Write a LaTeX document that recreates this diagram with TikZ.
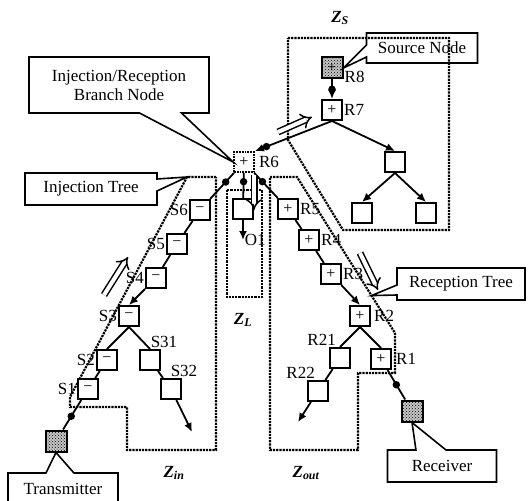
\documentclass[tikz,border=0pt]{standalone}
\usepackage{fontspec}
\setmainfont{Liberation Serif}
\usetikzlibrary{arrows.meta,shapes.callouts,patterns}

\tikzset{
  caja/.style={draw, line width=2pt, minimum size=20pt, inner sep=0pt, fill=white, font=\fontsize{16}{16}\selectfont},
  fuente/.style={caja, minimum size=21pt, preaction={fill=gray!45}, pattern=crosshatch dots},
  rama/.style={draw, densely dotted, line width=1.8pt, minimum size=20pt, inner sep=0pt, font=\fontsize{16}{16}\selectfont},
  punto/.style={circle, fill=black, inner sep=0pt, minimum size=7.5pt},
  zona/.style={densely dotted, line width=2.2pt},
  enlace/.style={line width=1.8pt},
  flecha/.style={enlace, -{Latex[length=9pt,width=8pt]}},
  hueca/.style={double distance=4pt, line width=1.5pt, -{Implies}},
  globo/.style={rectangle callout, draw, line width=1.6pt, inner sep=2pt},
  etiq/.style={inner sep=1pt},
}

\begin{document}
\begin{tikzpicture}[x=1pt, y=-1pt, font=\fontsize{17}{19}\selectfont]
  \useasboundingbox (0,0) rectangle (529,500);

  % Zonas
  \draw[zona] (288,38) -- (449,38) -- (449,230) -- (343,230) -- (288,140) -- cycle;
  \draw[zona] (216,177) -- (187,177) coordinate (zin) -- (70,397) -- (70,407) -- (127,407)
              -- (127,450) -- (216,450) -- cycle;
  \draw[zona] (227,190) rectangle (262,297);
  \draw[zona] (270,177) -- (297,177) -- coordinate[pos=0.76] (zout) (395,333) -- (395,373)
              -- (358,373) -- (358,450) -- (270,450) -- cycle;

  \node at (340,18) {\textbf{\textit{Z\textsubscript{S}}}};
  \node at (174,473) {\textbf{\textit{Z\textsubscript{in}}}};
  \node at (243,320) {\textbf{\textit{Z\textsubscript{L}}}};
  \node at (306,473) {\textbf{\textit{Z\textsubscript{out}}}};

  % Arbol fuente
  \node[fuente, label={[etiq, yshift=-9pt]right:R8}] (r8) at (332,68) {+};
  \node[caja, label={[etiq]right:R7}] (r7) at (332,110) {+};
  \node[caja] (rc) at (395,162) {};
  \node[caja] (c1) at (362,213) {};
  \node[caja] (c2) at (426,213) {};
  \node[rama, label={[etiq, xshift=3pt]right:R6}] (r6) at (244,162) {+};

  \draw[flecha] (r8) -- node[punto]{} (r7);
  \draw[flecha] (r7.south) -- node[punto, pos=0.85]{} (r6.north east);
  \draw[flecha] (r7.south) -- (rc.north);
  \draw[flecha] (rc.south) -- (c1.north);
  \draw[flecha] (rc.south) -- (c2.north);

  % Rama local
  \node[caja] (ob) at (243,209) {};
  \coordinate (o1) at (243,240);
  \draw[enlace] (r6) -- node[punto, pos=0.35]{} (ob);
  \draw[flecha] (ob) -- (o1) node[right, etiq] {O1};

  % Arbol de inyeccion
  \node[caja, label={[etiq]left:S6}] (s6) at (200,210) {−};
  \node[caja, label={[etiq]left:S5}] (s5) at (177,244) {−};
  \node[caja, label={[etiq]left:S4}] (s4) at (156,278) {−};
  \node[caja, label={[etiq]left:S3}] (s3) at (129,316) {−};
  \node[caja, label={[etiq, xshift=14pt]above:S31}] (s31) at (150,360) {};
  \node[caja, label={[etiq, xshift=13pt]above:S32}] (s32) at (171,389) {};
  \node[caja, label={[etiq]left:S2}] (s2) at (107,360) {−};
  \node[caja, label={[etiq]left:S1}] (s1) at (88,389) {−};
  \node[fuente] (tx) at (56,441) {};
  \coordinate (sal1) at (192,432);

  \draw[enlace] (r6) -- node[punto, pos=0.35]{} (s6);
  \draw[enlace] (s6) -- (s5);
  \draw[enlace] (s5) -- (s4);
  \draw[flecha] (s4) -- (s3.north);
  \draw[enlace] (s3.south) -- (s2.north);
  \draw[enlace] (s3.south) -- (s31.north);
  \draw[enlace] (s2) -- (s1);
  \draw[enlace] (s31) -- (s32);
  \draw[flecha] (s32) -- (sal1);
  \draw[enlace] (s1) -- node[punto, pos=0.55]{} (tx);

  % Arbol de recepcion
  \node[caja, label={[etiq]right:R5}] (r5) at (288,209) {+};
  \node[caja, label={[etiq]right:R4}] (r4) at (309,240) {+};
  \node[caja, label={[etiq]right:R3}] (r3) at (331,274) {+};
  \node[caja, label={[etiq, xshift=2pt]right:R2}] (r2) at (360,316) {+};
  \node[caja, label={[etiq, xshift=8pt]above left:R21}] (r21) at (340,358) {};
  \node[caja, label={[etiq, xshift=3pt]right:R1}] (r1) at (381,359) {+};
  \node[caja, label={[etiq, xshift=9pt]above left:R22}] (r22) at (318,391) {};
  \node[fuente] (rx) at (412,411) {};
  \coordinate (sal2) at (298,422);

  \draw[enlace] (r6) -- node[punto, pos=0.35]{} (r5);
  \draw[enlace] (r5) -- (r4);
  \draw[enlace] (r4) -- (r3);
  \draw[flecha] (r3) -- (r2.north);
  \draw[enlace] (r2.south) -- (r21.north);
  \draw[enlace] (r2.south) -- (r1.north);
  \draw[enlace] (r21) -- (r22);
  \draw[flecha] (r22) -- (sal2);
  \draw[enlace] (r1) -- node[punto, pos=0.5]{} (rx);

  % Flechas de sentido
  \draw[hueca] (278,132) -- (312,117);
  \draw[hueca] (104,295) -- (128,257);
  \draw[hueca] (360,253) -- (378,290);
  \draw[hueca] (254,175) -- (254,210);

  % Globos
  \node[globo, minimum width=180pt, minimum height=56pt, align=center, callout pointer width=42pt,
        callout absolute pointer={(r6.west)}] (ir) at (119,85) {Injection/Reception\\Branch Node};
  \node[globo, minimum width=111pt, minimum height=30pt, callout pointer width=12pt,
        callout absolute pointer={(r8.east)}] (src) at (422,48) {Source Node};
  \node[globo, minimum width=132pt, minimum height=32pt, callout pointer width=12pt,
        callout absolute pointer={(zin)}] (itree) at (91,189) {Injection Tree};
  \node[globo, minimum width=128pt, minimum height=32pt, callout pointer width=10pt,
        callout absolute pointer={(zout)}] (rtree) at (461,284) {Reception Tree};
  \node[globo, minimum width=109pt, minimum height=32pt, callout pointer width=30pt,
        callout absolute pointer={(rx.south)}] (rxc) at (442,466) {Receiver};
  \node[globo, minimum width=110pt, minimum height=32pt, callout pointer width=28pt,
        callout absolute pointer={(tx.south)}] (txc) at (63,489) {Transmitter};
\end{tikzpicture}
\end{document}
